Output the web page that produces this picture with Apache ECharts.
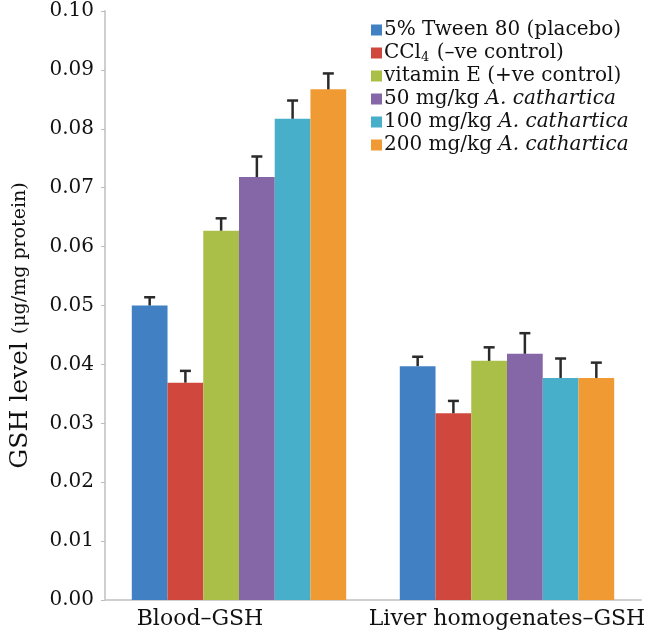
<!DOCTYPE html>
<html>
<head>
<meta charset="utf-8">
<script src="https://cdn.jsdelivr.net/npm/echarts@6/dist/echarts.min.js"></script>
<style>html,body{margin:0;padding:0;background:#fff}#c{width:668px;height:637px}</style>
</head>
<body>
<div id="c"></div>
<script>
var categories = ['Blood–GSH', 'Liver homogenates–GSH'];
var seriesNames = ['5% Tween 80 (placebo)', 'CCl4 (–ve control)', 'vitamin E (+ve control)', '50 mg/kg A. cathartica', '100 mg/kg A. cathartica', '200 mg/kg A. cathartica'];
var seriesColors = ['#4181C3', '#CF473D', '#AABF48', '#8566A7', '#47AFCA', '#F09A34'];
var bloodMeans = [0.0500, 0.0369, 0.0627, 0.0718, 0.0817, 0.0867];
var bloodErr   = [0.0014, 0.0020, 0.0021, 0.0035, 0.0031, 0.0027];
var liverMeans = [0.0397, 0.0317, 0.0406, 0.0418, 0.0377, 0.0377];
var liverErr   = [0.0016, 0.0021, 0.0023, 0.0035, 0.0033, 0.0026];
var yTicks = ['0.00','0.01','0.02','0.03','0.04','0.05','0.06','0.07','0.08','0.09','0.10'];

var FONT = '"DejaVu Serif", "Liberation Serif", serif';
var N = seriesNames.length;
var CAT_GAP = 0.2;

var legendRich = {
  sub: {fontFamily: FONT, fontSize: 13, verticalAlign: 'bottom', padding: [8, 1, 0, 0], color: '#111'},
  it: {fontFamily: FONT, fontSize: 20, fontStyle: 'italic', color: '#111'},
  n: {fontFamily: FONT, fontSize: 20, color: '#111'}
};
function legendFmt(name) {
  if (name.indexOf('CCl4') === 0) return '{n|CCl}{sub|4}{n|' + name.slice(4) + '}';
  var k = name.indexOf('A. cathartica');
  if (k >= 0) return '{n|' + name.slice(0, k) + '}{it|A. cathartica}';
  return '{n|' + name + '}';
}

var series = [];
for (var i = 0; i < N; i++) {
  series.push({
    type: 'bar',
    name: seriesNames[i],
    data: [bloodMeans[i], liverMeans[i]],
    itemStyle: {color: seriesColors[i]},
    barGap: '0%',
    barCategoryGap: (CAT_GAP * 100) + '%',
    z: 2
  });
}
for (var j = 0; j < N; j++) {
  (function (idx) {
    series.push({
      type: 'custom',
      name: seriesNames[idx],
      data: [[0, bloodMeans[idx], bloodErr[idx]], [1, liverMeans[idx], liverErr[idx]]],
      z: 3,
      silent: true,
      renderItem: function (params, api) {
        var cat = api.value(0), m = api.value(1), e = api.value(2);
        var band = api.size([1, 0])[0];
        var barW = band * (1 - CAT_GAP) / N;
        var off = -band * (1 - CAT_GAP) / 2 + (idx + 0.5) * barW;
        var p0 = api.coord([cat, m]);
        var p1 = api.coord([cat, m + e]);
        var x = p0[0] + off;
        var cap = 11;
        return {
          type: 'group',
          children: [
            {type: 'line', shape: {x1: x, y1: p0[1], x2: x, y2: p1[1]}, style: {stroke: '#2a2a2a', lineWidth: 2.5}},
            {type: 'line', shape: {x1: x - cap / 2, y1: p1[1], x2: x + cap / 2, y2: p1[1]}, style: {stroke: '#2a2a2a', lineWidth: 2.5}}
          ]
        };
      }
    });
  })(j);
}

var chart = echarts.init(document.getElementById('c'), null, {renderer: 'canvas'});
chart.setOption({
  animation: false,
  backgroundColor: '#fff',
  grid: {left: 101, right: 27, top: 11, bottom: 37, containLabel: false},
  legend: {
    data: seriesNames,
    orient: 'vertical',
    left: 366,
    top: 14,
    itemWidth: 11,
    itemHeight: 11,
    itemGap: 1,
    icon: 'rect',
    formatter: legendFmt,
    textStyle: {fontFamily: FONT, fontSize: 20, color: '#111', lineHeight: 22, padding: [0, 0, 0, -3], rich: legendRich}
  },
  xAxis: {
    type: 'category',
    data: [{value: categories[0], textStyle: {padding: [0, 78, 0, 0]}}, categories[1]],
    axisLine: {show: true, lineStyle: {color: '#cfcfcf', width: 2}},
    axisTick: {show: false},
    axisLabel: {interval: 0, fontFamily: FONT, fontSize: 22, color: '#111', margin: 8}
  },
  yAxis: {
    type: 'value',
    min: 0,
    max: 0.1,
    interval: 0.01,
    splitLine: {show: false},
    axisLine: {show: true, lineStyle: {color: '#cfcfcf', width: 2}},
    axisTick: {show: true, length: 4, lineStyle: {color: '#bdbdbd'}},
    axisLabel: {
      fontFamily: FONT, fontSize: 20, color: '#111', margin: 11,
      formatter: function (v) { return yTicks[Math.round(v * 100)]; }
    },
    name: '{a|GSH level }{b|(μg/mg protein)}',
    nameLocation: 'middle',
    nameGap: 72,
    nameRotate: 90,
    nameTextStyle: {
      padding: [0, 40, 0, 0],
      rich: {
        a: {fontFamily: FONT, fontSize: 25, color: '#111'},
        b: {fontFamily: FONT, fontSize: 19, color: '#111'}
      }
    }
  },
  series: series
});
</script>
</body>
</html>
